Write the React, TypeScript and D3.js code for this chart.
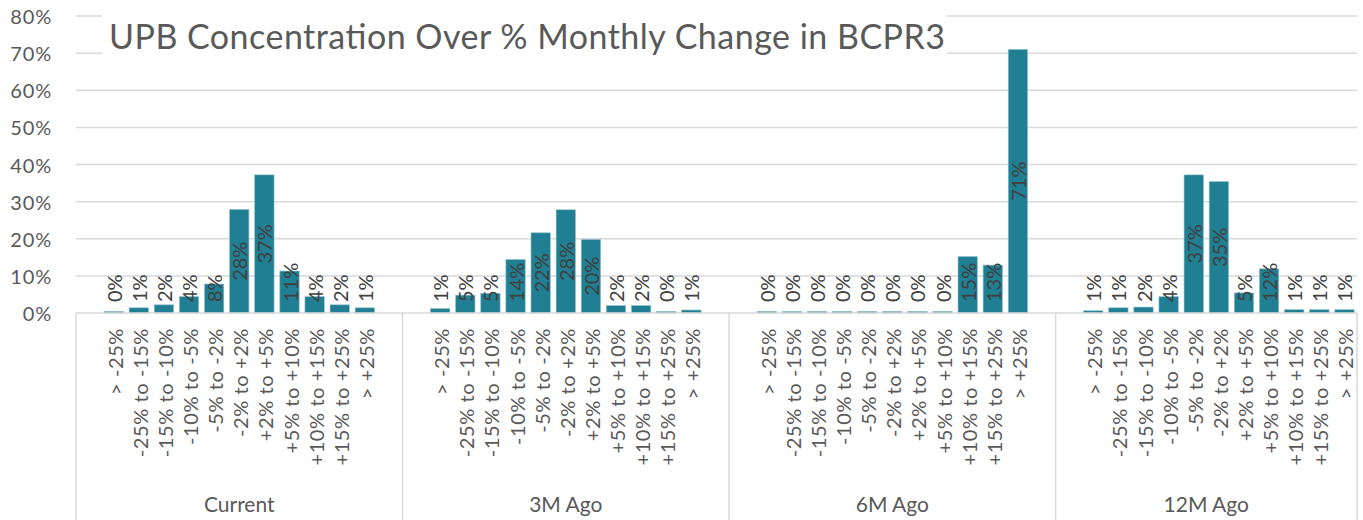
import React, { useEffect, useRef } from "react";
import * as d3 from "d3";

const W = 1363;
const H = 520;

const title = "UPB Concentration Over % Monthly Change in BCPR3";
const groups = ["Current", "3M Ago", "6M Ago", "12M Ago"];
const buckets = [
  "> -25%",
  "-25% to -15%",
  "-15% to -10%",
  "-10% to -5%",
  "-5% to -2%",
  "-2% to +2%",
  "+2% to +5%",
  "+5% to +10%",
  "+10% to +15%",
  "+15% to +25%",
  "> +25%",
];
const currentVals = [0.004, 0.014, 0.022, 0.044, 0.078, 0.279, 0.372, 0.113, 0.044, 0.022, 0.014];
const m3Vals = [0.012, 0.048, 0.053, 0.144, 0.216, 0.278, 0.198, 0.02, 0.02, 0.004, 0.008];
const m6Vals = [0.004, 0.004, 0.004, 0.004, 0.004, 0.004, 0.004, 0.004, 0.152, 0.129, 0.71];
const m12Vals = [0.006, 0.014, 0.016, 0.044, 0.372, 0.354, 0.054, 0.119, 0.009, 0.009, 0.009];
const seriesVals = [currentVals, m3Vals, m6Vals, m12Vals];
const yTicks = [0, 0.1, 0.2, 0.3, 0.4, 0.5, 0.6, 0.7, 0.8];

const FONT = "Lato, 'Open Sans', sans-serif";

export default function App() {
  const ref = useRef<SVGSVGElement | null>(null);

  useEffect(() => {
    document.body.style.margin = "0";
    const svg = d3.select(ref.current);
    svg.selectAll("*").remove();

    const left = 76;
    const right = 1357;
    const top = 16;
    const bottom = 313;

    // slot layout: each group = blank + 11 buckets + blank (last group has no trailing blank)
    const slotsPerGroup = buckets.length + 2;
    const totalSlots = slotsPerGroup * groups.length - 1;
    const slotIds = d3.range(totalSlots).map(String);
    const x = d3.scaleBand().domain(slotIds).range([left, right]).paddingInner(0.23).paddingOuter(0.115);
    const step = (right - left) / totalSlots;
    const y = d3.scaleLinear().domain([0, 0.8]).range([bottom, top]);

    const data = groups.flatMap((g, gi) =>
      buckets.map((b, bi) => ({
        group: g,
        bucket: b,
        value: seriesVals[gi][bi],
        slot: String(gi * slotsPerGroup + 1 + bi),
      }))
    );

    // gridlines
    svg
      .append("g")
      .selectAll("line")
      .data(yTicks.slice(1))
      .join("line")
      .attr("x1", left)
      .attr("x2", right)
      .attr("y1", (d) => y(d))
      .attr("y2", (d) => y(d))
      .attr("stroke", "#d9d9d9")
      .attr("stroke-width", 1.5);

    // y tick labels
    svg
      .append("g")
      .selectAll("text")
      .data(yTicks)
      .join("text")
      .attr("x", 52)
      .attr("y", (d) => y(d))
      .attr("text-anchor", "end")
      .attr("dominant-baseline", "central")
      .attr("font-family", FONT)
      .attr("font-size", 20)
      .attr("letter-spacing", 0.8)
      .attr("fill", "#595959")
      .text((d) => d3.format(".0%")(d));

    // title with white background
    svg
      .append("rect")
      .attr("x", 102)
      .attr("y", 4)
      .attr("width", 845)
      .attr("height", 62)
      .attr("fill", "#ffffff");
    svg
      .append("text")
      .attr("x", 109)
      .attr("y", 49)
      .attr("font-family", FONT)
      .attr("font-size", 34)
      .attr("fill", "#595959")
      .attr("textLength", 836)
      .attr("lengthAdjust", "spacing")
      .text(title);

    // bars
    svg
      .append("g")
      .selectAll("rect")
      .data(data)
      .join("rect")
      .attr("x", (d) => x(d.slot)!)
      .attr("width", x.bandwidth())
      .attr("y", (d) => y(d.value))
      .attr("height", (d) => bottom - y(d.value))
      .attr("fill", "#217f93")
      .attr("stroke", "#8fc0cb")
      .attr("stroke-width", 0.6);

    // data labels
    const lbl = svg
      .append("g")
      .selectAll("text")
      .data(data)
      .join("text")
      .attr("font-family", FONT)
      .attr("font-size", 20)
      .attr("fill", "#404040")
      .attr("text-anchor", "start")
      .attr("dominant-baseline", "central")
      .text((d) => d3.format(".0%")(d.value));
    lbl.each(function (d) {
      const len = (this as SVGTextElement).getComputedTextLength();
      const cx = x(d.slot)! + x.bandwidth() / 2;
      const mid = (y(d.value) + bottom) / 2;
      const start = Math.min(mid + len / 2, 302);
      d3.select(this).attr("transform", `translate(${cx},${start}) rotate(-90)`);
    });

    // axis line
    svg
      .append("line")
      .attr("x1", left)
      .attr("x2", right)
      .attr("y1", bottom)
      .attr("y2", bottom)
      .attr("stroke", "#d9d9d9")
      .attr("stroke-width", 1.5);

    // group separators
    const seps = groups.map((_, gi) => left + gi * slotsPerGroup * step).concat([right]);
    svg
      .append("g")
      .selectAll("line")
      .data(seps)
      .join("line")
      .attr("x1", (d) => d)
      .attr("x2", (d) => d)
      .attr("y1", bottom)
      .attr("y2", H)
      .attr("stroke", "#d9d9d9")
      .attr("stroke-width", 1.5);

    // category labels
    svg
      .append("g")
      .selectAll("text")
      .data(data)
      .join("text")
      .attr("transform", (d) => `translate(${x(d.slot)! + x.bandwidth() / 2 + 1},328) rotate(-90)`)
      .attr("text-anchor", "end")
      .attr("dominant-baseline", "central")
      .attr("font-family", FONT)
      .attr("font-size", 20)
      .attr("letter-spacing", 0.6)
      .attr("fill", "#595959")
      .text((d) => d.bucket);

    // group labels
    svg
      .append("g")
      .selectAll("text")
      .data(groups)
      .join("text")
      .attr("x", (_, gi) => (seps[gi] + seps[gi + 1]) / 2)
      .attr("y", 512)
      .attr("text-anchor", "middle")
      .attr("font-family", FONT)
      .attr("font-size", 21)
      .attr("fill", "#595959")
      .text((d) => d);
  }, []);

  return (
    <svg
      ref={ref}
      width={W}
      height={H}
      style={{ position: "absolute", left: 0, top: 0, background: "#fff" }}
    />
  );
}
